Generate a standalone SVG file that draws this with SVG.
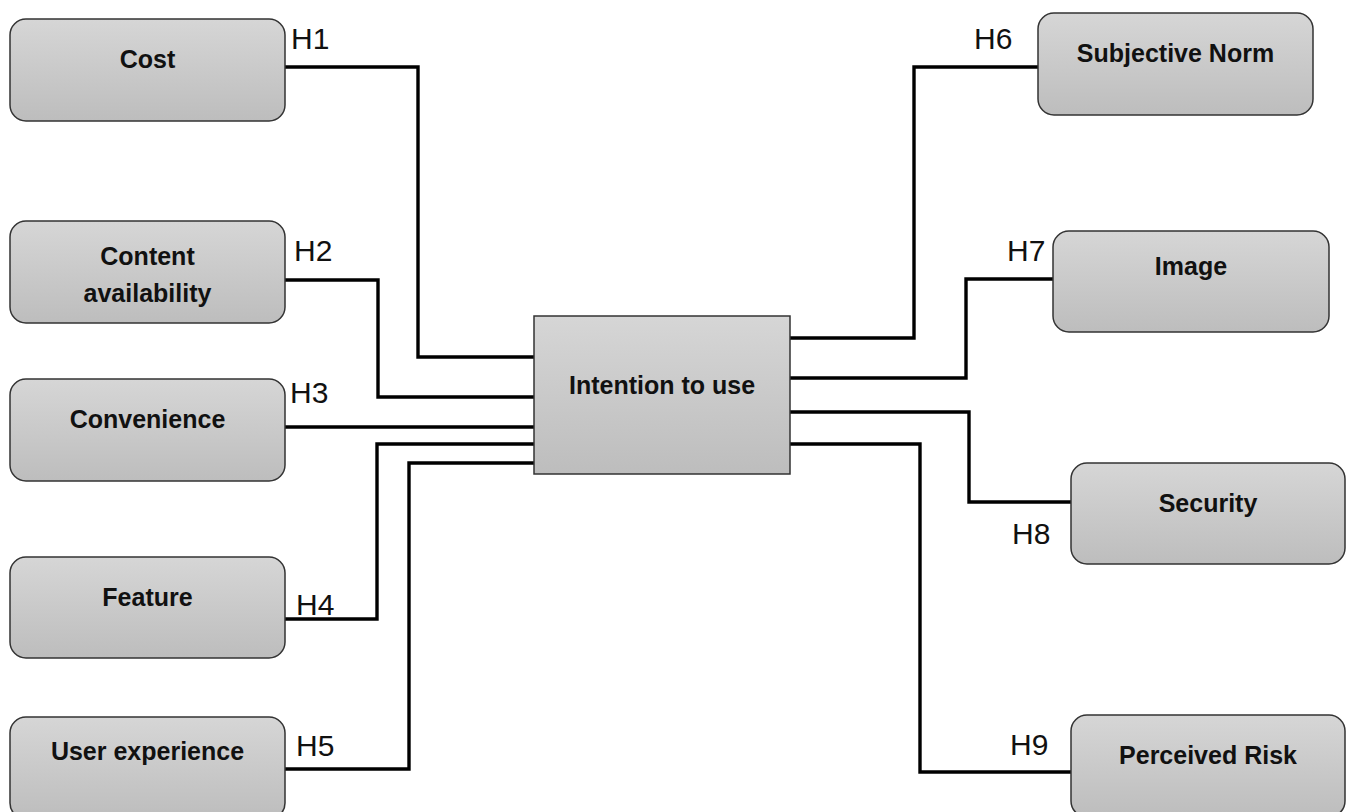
<svg xmlns="http://www.w3.org/2000/svg" width="1347" height="812" viewBox="0 0 1347 812">
  <defs>
    <linearGradient id="boxFill" x1="0" y1="0" x2="0" y2="1">
      <stop offset="0" stop-color="#d6d6d6"/>
      <stop offset="1" stop-color="#bdbdbd"/>
    </linearGradient>
    <style>
      .node { fill: url(#boxFill); stroke: #333333; stroke-width: 1.5; }
      .label { font-family: "Liberation Sans", Arial, sans-serif; font-weight: bold; font-size: 25px; fill: #111111; text-anchor: middle; }
      .hyp { font-family: "Liberation Sans", Arial, sans-serif; font-size: 30px; fill: #111111; }
      .link { fill: none; stroke: #000000; stroke-width: 3.4; stroke-linejoin: miter; }
    </style>
  </defs>
  <rect width="1347" height="812" fill="#ffffff"/>

  <!-- connectors -->
  <g id="connectors">
    <polyline class="link" points="285,67 418,67 418,357 534,357"/>
    <polyline class="link" points="285,280 378,280 378,397 534,397"/>
    <polyline class="link" points="285,427 534,427"/>
    <polyline class="link" points="285,619 377,619 377,444 534,444"/>
    <polyline class="link" points="285,769 409,769 409,463 534,463"/>
    <polyline class="link" points="1038,67 914,67 914,338 790,338"/>
    <polyline class="link" points="1053,279 966,279 966,378 790,378"/>
    <polyline class="link" points="790,412 969,412 969,502 1071,502"/>
    <polyline class="link" points="790,444 920,444 920,772 1071,772"/>
  </g>

  <!-- hypothesis labels -->
  <g id="hypotheses">
    <text class="hyp" x="291" y="49">H1</text>
    <text class="hyp" x="294" y="261">H2</text>
    <text class="hyp" x="290" y="403">H3</text>
    <text class="hyp" x="296" y="615">H4</text>
    <text class="hyp" x="296" y="756">H5</text>
    <text class="hyp" x="974" y="49">H6</text>
    <text class="hyp" x="1007" y="261">H7</text>
    <text class="hyp" x="1012" y="544">H8</text>
    <text class="hyp" x="1010" y="755">H9</text>
  </g>

  <g id="cost">
    <rect class="node" x="10" y="19" width="275" height="102" rx="16"/>
    <text class="label" x="147.5" y="68">Cost</text>
  </g>
  <g id="content-availability">
    <rect class="node" x="10" y="221" width="275" height="102" rx="16"/>
    <text class="label" x="147.5" y="265">Content</text>
    <text class="label" x="147.5" y="302">availability</text>
  </g>
  <g id="convenience">
    <rect class="node" x="10" y="379" width="275" height="102" rx="16"/>
    <text class="label" x="147.5" y="428">Convenience</text>
  </g>
  <g id="feature">
    <rect class="node" x="10" y="557" width="275" height="101" rx="16"/>
    <text class="label" x="147.5" y="606">Feature</text>
  </g>
  <g id="user-experience">
    <rect class="node" x="10" y="717" width="275" height="102" rx="16"/>
    <text class="label" x="147.5" y="760">User experience</text>
  </g>

  <g id="intention-to-use">
    <rect class="node" x="534" y="316" width="256" height="158"/>
    <text class="label" x="662" y="394">Intention to use</text>
  </g>

  <g id="subjective-norm">
    <rect class="node" x="1038" y="13" width="275" height="102" rx="16"/>
    <text class="label" x="1175.5" y="62">Subjective Norm</text>
  </g>
  <g id="image">
    <rect class="node" x="1053" y="231" width="276" height="101" rx="16"/>
    <text class="label" x="1191" y="275">Image</text>
  </g>
  <g id="security">
    <rect class="node" x="1071" y="463" width="274" height="101" rx="16"/>
    <text class="label" x="1208" y="512">Security</text>
  </g>
  <g id="perceived-risk">
    <rect class="node" x="1071" y="715" width="274" height="102" rx="16"/>
    <text class="label" x="1208" y="764">Perceived Risk</text>
  </g>
</svg>
